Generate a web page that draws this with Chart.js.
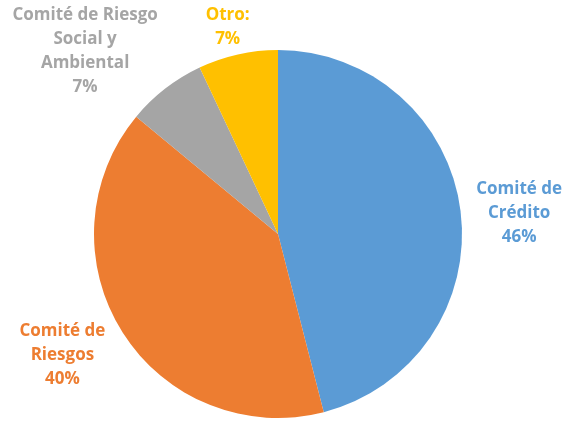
<!DOCTYPE html>
<html>
<head>
<meta charset="utf-8">
<script src="https://cdn.jsdelivr.net/npm/chart.js@4/dist/chart.umd.min.js"></script>
<style>
  html, body { margin: 0; padding: 0; background: #ffffff; }
  #wrap { width: 563px; height: 423px; }
</style>
</head>
<body>
<div id="wrap"><canvas id="c" width="563" height="423"></canvas></div>
<script>
// Distribution of committees
const categories = ['Comité de Crédito', 'Comité de Riesgos', 'Comité de Riesgo Social y Ambiental', 'Otro:'];
const values = [46, 40, 7, 7];
const labelLines = [
  ['Comité de', 'Crédito'],
  ['Comité de', 'Riesgos'],
  ['Comité de Riesgo', 'Social y', 'Ambiental'],
  ['Otro:']
];
const sliceColors = ['#5B9BD5', '#ED7D31', '#A5A5A5', '#FFC000'];
const textColors = ['#5B9BD5', '#ED7D31', '#A5A5A5', '#FFC000'];

// Label placement relative to each slice's mid angle: radial factor and nudge
const labelPlacement = [
  { r: 1.31, dx: 2, dy: 9.5 },
  { r: 1.33, dx: -9, dy: -10 },
  { r: 1.40, dx: -35, dy: 21 },
  { r: 1.13, dx: -5, dy: -3.5 }
];

const outsideLabels = {
  id: 'outsideLabels',
  afterDatasetsDraw(chart) {
    const ctx = chart.ctx;
    const meta = chart.getDatasetMeta(0);
    const total = values.reduce((a, b) => a + b, 0);
    ctx.save();
    ctx.font = 'bold 17px "Open Sans", Lato, sans-serif';
    ctx.textAlign = 'center';
    ctx.textBaseline = 'middle';
    meta.data.forEach((arc, i) => {
      const p = arc.getProps(['x', 'y', 'startAngle', 'endAngle', 'outerRadius'], true);
      const mid = (p.startAngle + p.endAngle) / 2;
      const pl = labelPlacement[i];
      const lines = labelLines[i].concat([Math.round(values[i] / total * 100) + '%']);
      const cx = p.x + Math.cos(mid) * p.outerRadius * pl.r + pl.dx;
      const cy = p.y + Math.sin(mid) * p.outerRadius * pl.r + pl.dy;
      const lh = 24;
      const top = cy - (lines.length - 1) * lh / 2;
      ctx.fillStyle = textColors[i];
      lines.forEach((t, k) => ctx.fillText(t, cx, top + k * lh));
    });
    ctx.restore();
  }
};

new Chart(document.getElementById('c'), {
  type: 'pie',
  data: {
    labels: categories,
    datasets: [{
      data: values,
      backgroundColor: sliceColors,
      borderWidth: 0
    }]
  },
  options: {
    responsive: false,
    animation: false,
    layout: { padding: { left: 94, right: 101, top: 50, bottom: 5 } },
    plugins: {
      legend: { display: false },
      tooltip: { enabled: false }
    }
  },
  plugins: [outsideLabels]
});
</script>
</body>
</html>
